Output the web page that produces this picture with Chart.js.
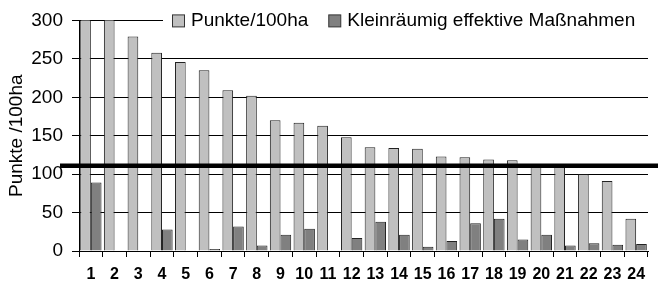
<!DOCTYPE html>
<html>
<head>
<meta charset="utf-8">
<script src="https://cdn.jsdelivr.net/npm/chart.js@4.4.0/dist/chart.umd.min.js"></script>
<style>
  html, body { margin: 0; padding: 0; background: #fff; }
  canvas { display: block; }
</style>
</head>
<body>
<canvas id="chart" width="658" height="284"></canvas>
<script>
// Daten
const kategorien = ['1','2','3','4','5','6','7','8','9','10','11','12',
                    '13','14','15','16','17','18','19','20','21','22','23','24'];
const punkte = [330, 330, 279, 258, 246, 235, 209, 202, 170, 167, 163, 148,
                135, 134, 133, 123, 122, 119, 118, 113, 110, 100, 91, 42];
const massnahmen = [89, 0, 0, 28, 0, 2.5, 32, 7, 21, 29, 0, 17,
                    38, 21, 5.5, 13, 36, 42, 15, 21, 7, 10, 8, 9];
const yTicks = [0, 50, 100, 150, 200, 250, 300];
const schwelle = 111;

const FONT = 'Liberation Sans, Arial, sans-serif';

// dicke Linie quer durchs Diagramm
const schwellePlugin = {
    id: 'schwelle',
    afterDatasetsDraw(chart) {
        const y = chart.scales.y.getPixelForValue(schwelle);
        const ctx = chart.ctx;
        ctx.save();
        ctx.strokeStyle = '#000';
        ctx.lineWidth = 4.5;
        ctx.beginPath();
        ctx.moveTo(60, y);
        ctx.lineTo(chart.width, y);
        ctx.stroke();
        ctx.restore();
    }
};

// Legende oben rechts, mit weissem Hintergrund ueber der 300er Linie
const legendePlugin = {
    id: 'legende',
    afterDraw(chart) {
        const ctx = chart.ctx;
        const top = chart.chartArea.top;
        ctx.save();
        ctx.fillStyle = '#fff';
        ctx.fillRect(163, top - 9, 492, 19);
        ctx.font = '19px ' + FONT;
        ctx.textBaseline = 'middle';
        let x = 172;
        chart.data.datasets.forEach(ds => {
            ctx.fillStyle = ds.backgroundColor;
            ctx.fillRect(x + 0.5, top - 5.5, 12, 12);
            ctx.strokeStyle = '#333';
            ctx.lineWidth = 1;
            ctx.strokeRect(x + 0.5, top - 5.5, 12, 12);
            ctx.fillStyle = '#000';
            ctx.fillText(ds.label, x + 19, top + 0.5);
            x += 19 + ctx.measureText(ds.label).width + 20;
        });
        ctx.restore();
    }
};

new Chart(document.getElementById('chart'), {
    type: 'bar',
    data: {
        labels: kategorien,
        datasets: [
            {
                label: 'Punkte/100ha',
                data: punkte,
                backgroundColor: '#c0c0c0',
                borderColor: '#222',
                borderWidth: 1,
                categoryPercentage: 0.9,
                barPercentage: 1,
                clip: 0
            },
            {
                label: 'Kleinräumig effektive Maßnahmen',
                data: massnahmen,
                backgroundColor: '#808080',
                borderColor: '#222',
                borderWidth: 1,
                categoryPercentage: 0.9,
                barPercentage: 1,
                clip: 0
            }
        ]
    },
    options: {
        responsive: false,
        animation: false,
        layout: { padding: { top: 16, right: 10, left: 0, bottom: 0 } },
        plugins: {
            legend: { display: false },
            tooltip: { enabled: false }
        },
        scales: {
            x: {
                grid: {
                    offset: true,
                    drawOnChartArea: false,
                    drawTicks: true,
                    tickLength: 6,
                    color: '#000'
                },
                border: { color: '#000', width: 1 },
                ticks: {
                    color: '#000',
                    padding: 8,
                    maxRotation: 0,
                    autoSkip: false,
                    font: { family: FONT, size: 16, weight: 'bold' }
                },
                afterFit(scale) { scale.height = 33; }
            },
            y: {
                min: 0,
                max: 300,
                afterBuildTicks(scale) {
                    scale.ticks = yTicks.map(v => ({ value: v }));
                },
                grid: {
                    color: '#000',
                    lineWidth: 1,
                    tickLength: 7
                },
                border: { color: '#000', width: 1 },
                ticks: {
                    color: '#000',
                    padding: 9,
                    font: { family: FONT, size: 19 }
                },
                title: {
                    display: true,
                    text: 'Punkte /100ha',
                    color: '#000',
                    padding: { top: 5, bottom: 0 },
                    font: { family: FONT, size: 19 }
                },
                afterFit(scale) { scale.width = 79; }
            }
        }
    },
    plugins: [schwellePlugin, legendePlugin]
});
</script>
</body>
</html>
